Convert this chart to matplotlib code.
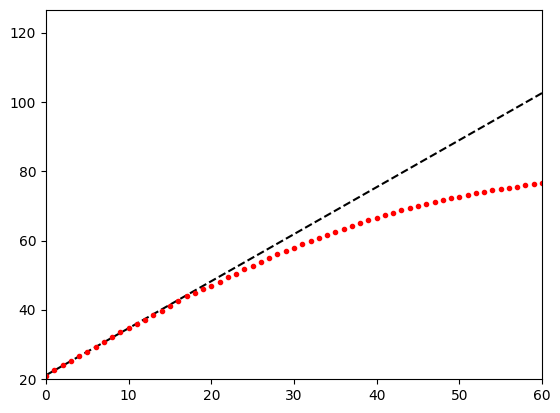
import matplotlib
matplotlib.use('Agg')
import matplotlib.pyplot as plt
import numpy as np

# red dots, one per integer x
x_points = list(range(0, 61))
y_points = [
    20.95, 22.5, 23.95, 25.1, 26.55, 27.7, 29.2, 30.6, 32.05, 33.5,
    34.65, 35.8, 37.1, 38.4, 39.65, 41.1, 42.45, 44.0, 44.85, 45.9,
    46.8, 47.95, 49.5, 50.25, 51.7, 52.65, 53.7, 54.9, 56.1, 56.9,
    57.8, 59.0, 59.8, 60.65, 61.5, 62.4, 63.3, 64.1, 65.0, 65.95,
    66.5, 67.3, 67.9, 68.75, 69.3, 69.9, 70.5, 71.15, 71.7, 72.2,
    72.6, 73.2, 73.7, 74.0, 74.55, 74.8, 75.1, 75.5, 76.0, 76.3,
    76.55,
]

# dashed reference line (endpoints)
line_x = [0, 60]
line_y = [21.1, 102.6]

fig = plt.figure(figsize=(5.6, 4.13), dpi=100)
ax = fig.add_axes([0.0821, 0.0823, 0.8858, 0.8935])

ax.plot(line_x, line_y, 'k--')
ax.plot(x_points, y_points, 'r.')

ax.set_xlim(0, 60)
ax.set_ylim(20, 126.6)

fig.savefig('out.png', dpi=100)
